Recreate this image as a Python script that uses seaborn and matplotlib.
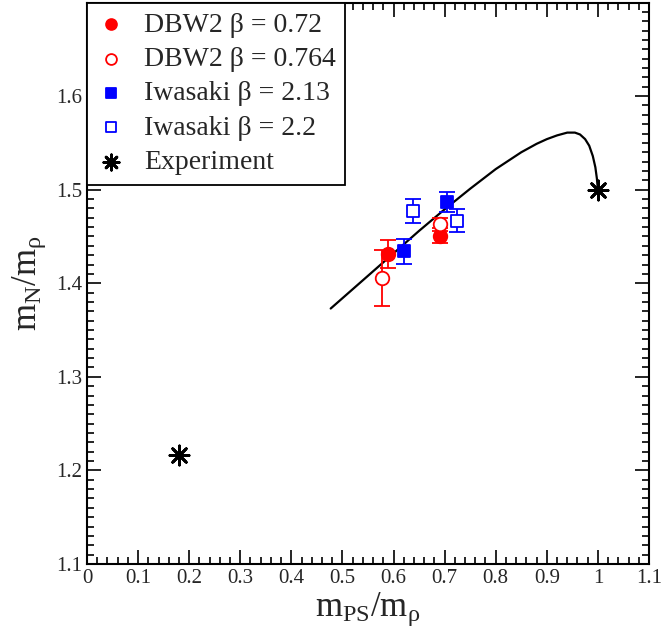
import matplotlib
matplotlib.use("Agg")
import matplotlib.pyplot as plt
import seaborn as sns
import numpy as np
import pandas as pd
from matplotlib.ticker import MultipleLocator

# DBW2 beta = 0.72 (filled red circles)
dbw2_a_x = [0.590, 0.691]
dbw2_a_y = [1.431, 1.451]
dbw2_a_err = [0.015, 0.008]

# DBW2 beta = 0.764 (open red circles)
dbw2_b_x = [0.578, 0.691]
dbw2_b_y = [1.406, 1.463]
dbw2_b_err = [0.030, 0.007]

# Iwasaki beta = 2.13 (filled blue squares)
iwa_a_x = [0.621, 0.705]
iwa_a_y = [1.434, 1.487]
iwa_a_err = [0.013, 0.011]

# Iwasaki beta = 2.2 (open blue squares)
iwa_b_x = [0.639, 0.725]
iwa_b_y = [1.477, 1.467]
iwa_b_err = [0.013, 0.012]

# Experiment
exp_x = [0.18, 1.0]
exp_y = [1.217, 1.5]

# model curve
curve_x = [0.477, 0.55, 0.60, 0.65, 0.70, 0.75, 0.80, 0.85, 0.88, 0.90, 0.92,
           0.94, 0.955, 0.965, 0.975, 0.983, 0.99, 0.995, 0.998, 1.0]
curve_y = [1.373, 1.408, 1.432, 1.456, 1.479, 1.501, 1.522, 1.540, 1.549, 1.554, 1.558,
           1.561, 1.561, 1.559, 1.554, 1.547, 1.536, 1.524, 1.512, 1.5]

xtick_vals = [0, 0.1, 0.2, 0.3, 0.4, 0.5, 0.6, 0.7, 0.8, 0.9, 1.0, 1.1]
xtick_labels = ["0", "0.1", "0.2", "0.3", "0.4", "0.5", "0.6", "0.7", "0.8", "0.9", "1", "1.1"]
ytick_vals = [1.1, 1.2, 1.3, 1.4, 1.5, 1.6, 1.7]
ytick_labels = ["1.1", "1.2", "1.3", "1.4", "1.5", "1.6", ""]

sns.set_theme(style="ticks")
plt.rcParams["font.family"] = ["Liberation Serif", "DejaVu Serif"]
plt.rcParams["mathtext.fontset"] = "custom"
plt.rcParams["mathtext.rm"] = "Liberation Serif"
plt.rcParams["mathtext.it"] = "Liberation Serif:italic"

fig = plt.figure(figsize=(6.64, 6.4), dpi=100)
ax = fig.add_axes([0.131, 0.11875, 0.8464, 0.8773])

sns.lineplot(x=curve_x, y=curve_y, color="black", linewidth=1.6, sort=False, ax=ax)

series = [
    (dbw2_a_x, dbw2_a_y, dbw2_a_err, "red", "o", True, "DBW2 β = 0.72"),
    (dbw2_b_x, dbw2_b_y, dbw2_b_err, "red", "o", False, "DBW2 β = 0.764"),
    (iwa_a_x, iwa_a_y, iwa_a_err, "blue", "s", True, "Iwasaki β = 2.13"),
    (iwa_b_x, iwa_b_y, iwa_b_err, "blue", "s", False, "Iwasaki β = 2.2"),
]

for xs, ys, errs, col, mk, filled, lab in series:
    ax.errorbar(xs, ys, yerr=errs, fmt="none", ecolor=col, elinewidth=1.3,
                capsize=6, capthick=1.3, zorder=3)
    size = 95 if mk == "o" else 70
    sns.scatterplot(x=xs, y=ys, marker=mk, s=size,
                    color=col if filled else "white",
                    edgecolor=col, linewidth=1.3, label=lab, zorder=4, ax=ax)

sns.scatterplot(x=exp_x, y=exp_y, marker=(8, 2, 0), s=190, color="black",
                linewidth=2.0, label="Experiment", zorder=5, ax=ax)

ax.set_xlim(0, 1.1)
ax.set_ylim(1.1, 1.7)
ax.set_xticks(xtick_vals)
ax.set_xticklabels(xtick_labels)
ax.set_yticks(ytick_vals)
ax.set_yticklabels(ytick_labels)
ax.xaxis.set_minor_locator(MultipleLocator(0.02))
ax.yaxis.set_minor_locator(MultipleLocator(0.01))
ax.tick_params(which="both", direction="in", top=True, right=True, labelsize=15,
               color="black", width=1.2)
ax.tick_params(which="major", length=10)
ax.tick_params(which="minor", length=5)
for sp in ax.spines.values():
    sp.set_linewidth(1.5)
    sp.set_color("black")

ax.set_xlabel(r"m$_{\mathrm{PS}}$/m$_{\mathrm{ρ}}$", fontsize=25, labelpad=2)
ax.set_ylabel(r"m$_{\mathrm{N}}$/m$_{\mathrm{ρ}}$", fontsize=25, labelpad=6)

leg = ax.legend(loc="upper left", bbox_to_anchor=(0, 1), borderaxespad=0,
                fontsize=20, fancybox=False, edgecolor="black", framealpha=1,
                labelspacing=0.32, handletextpad=0.7, borderpad=0.35,
                handlelength=1.0, markerscale=0.8)
leg.get_frame().set_linewidth(1.3)

fig.savefig("out.png", dpi=100)
